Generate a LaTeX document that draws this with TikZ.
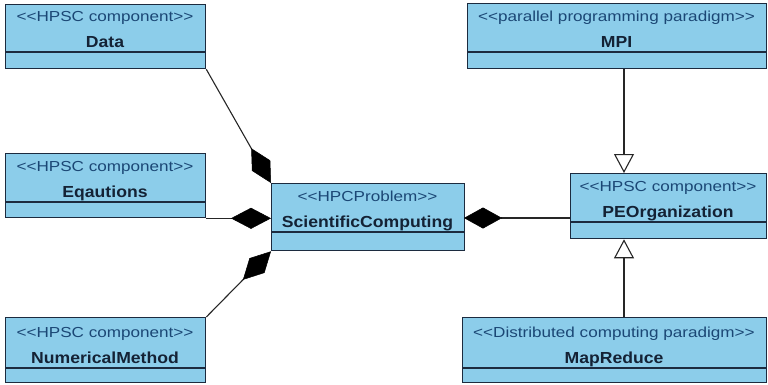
\documentclass[tikz,border=0pt]{standalone}
\usepackage{fontspec}
\setmainfont{Liberation Sans}
\newfontfamily\sterfont[FakeStretch=1.18]{Liberation Sans}
\newfontfamily\namefont[FakeStretch=1.1]{Liberation Sans}
\usetikzlibrary{arrows.meta}
\definecolor{umlfill}{HTML}{8CCDEA}
\definecolor{umlborder}{HTML}{1C2B3F}
\definecolor{stercol}{HTML}{1B4775}
\definecolor{namecol}{HTML}{142235}
\definecolor{linkcol}{HTML}{262626}
\tikzset{
  classbox/.style={draw=umlborder, fill=umlfill, line width=1.3pt, inner sep=0pt, anchor=north west},
  divline/.style={draw=umlborder, line width=1.3pt},
  stertext/.style={anchor=base, inner sep=0pt, text=stercol, font=\fontsize{14.5}{17}\sterfont},
  nametext/.style={anchor=base, inner sep=0pt, text=namecol, font=\fontsize{16}{18}\namefont\bfseries},
  link/.style={draw=linkcol, line width=1.1pt},
  compo/.style={link, -{Diamond[length=40pt, width=21pt, line width=0.5pt, fill=black, color=black]}},
  compostart/.style={link, {Diamond[length=38pt, width=21pt, line width=0.5pt, fill=black, color=black]}-},
  gen/.style={link, -{Triangle[open, length=19pt, width=20pt, line width=1.1pt, fill=white]}}
}
% #1 name, #2 x1, #3 y1, #4 x2, #5 y2, #6 ydiv, #7 stereotype, #8 class name
\newcommand{\umlclass}[8]{%
  \node[classbox, minimum width={(#4-#2)*1pt}, minimum height={(#5-#3)*1pt}] (#1) at (#2,#3) {};
  \draw[divline] (#2,#6) -- (#4,#6);
  \node[stertext] (#1-st) at ({(#2+#4)/2},{#6-31}) {#7};
  \node[nametext] (#1-nm) at ({(#2+#4)/2},{#6-5}) {#8};
}
\begin{document}
\begin{tikzpicture}[x=1pt, y=-1pt]
\useasboundingbox (0,0) rectangle (768,384);
\umlclass{data}{5}{4}{205}{68}{52}{<<HPSC component>>}{Data}
\umlclass{eq}{5}{153}{205}{217}{202}{<<HPSC component>>}{Eqautions}
\umlclass{nm}{5}{317}{205}{382}{368}{<<HPSC component>>}{NumericalMethod}
\umlclass{sc}{271}{183}{464}{250}{232}{<<HPCProblem>>}{ScientificComputing}
\umlclass{mpi}{467}{3}{766}{68}{52}{<<parallel programming paradigm>>}{MPI}
\umlclass{peo}{570}{173}{766}{238}{222}{<<HPSC component>>}{PEOrganization}
\umlclass{mr}{462}{317}{766}{382}{368}{<<Distributed computing paradigm>>}{MapReduce}
\coordinate (vx) at (624,0);
\draw[compo] (data.south east) -- (sc.north west);
\draw[compo] (eq.south east) -- (eq.south east -| sc.west);
\draw[compo] (nm.north east) -- (sc.south west);
\coordinate (scr) at (464,218);
\draw[compostart] (scr) -- (scr -| peo.west);
\draw[gen] (vx |- mpi.south) -- (vx |- peo.north);
\draw[gen] (vx |- mr.north) -- (vx |- peo.south);
\end{tikzpicture}
\end{document}
